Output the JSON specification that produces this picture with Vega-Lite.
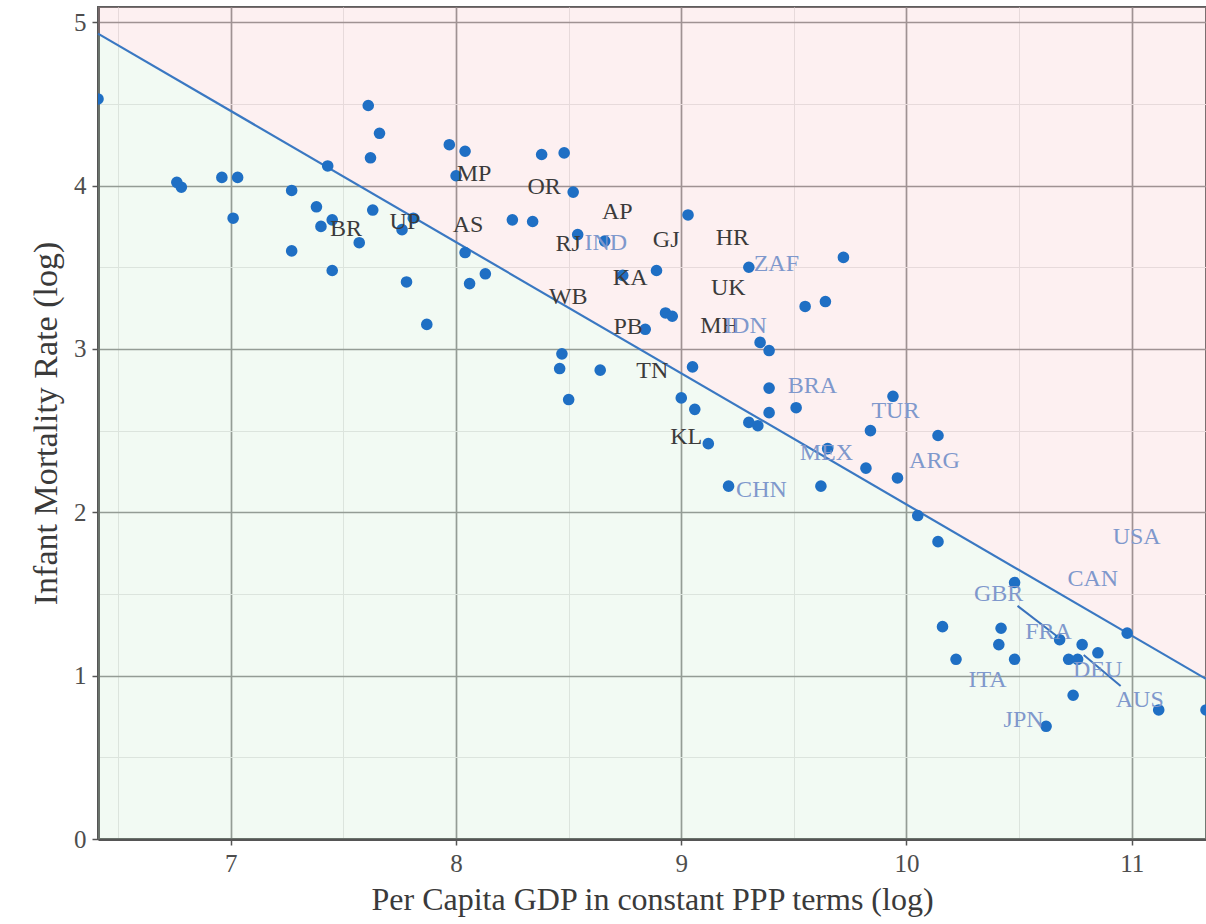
{
  "$schema": "https://vega.github.io/schema/vega-lite/v6.json",
  "width": 1108,
  "height": 832,
  "autosize": {"type": "none"},
  "padding": {"left": 98, "top": 7, "right": 0, "bottom": 85},
  "background": "white",
  "config": {
    "font": "Liberation Serif",
    "view": {"stroke": "#5e5e5e", "strokeWidth": 2},
    "axis": {
      "labelFont": "Liberation Serif",
      "titleFont": "Liberation Serif",
      "labelFontSize": 25,
      "titleFontSize": 32,
      "titleFontWeight": "normal",
      "labelColor": "#4d4d4d",
      "titleColor": "#3a3a3a",
      "domainColor": "#555555",
      "domainWidth": 3,
      "tickColor": "#555555",
      "tickWidth": 1.5,
      "tickSize": 6,
      "gridColor": {"condition": {"test": "datum.value % 1 === 0", "value": "#8a8a8a"}, "value": "#e4e4e4"},
      "gridWidth": {"condition": {"test": "datum.value % 1 === 0", "value": 1.7}, "value": 1},
      "tickOpacity": {"condition": {"test": "datum.value % 1 === 0", "value": 1}, "value": 0},
      "labelExpr": "datum.value % 1 === 0 ? format(datum.value, 'd') : ''"
    }
  },
  "datasets": {
    "fit": [
      {"gdp": 6.41, "imr": 4.93},
      {"gdp": 11.33, "imr": 0.98}
    ],
    "leaders": [
      {"gdp": 10.493, "imr": 1.427, "gdp2": 10.667, "imr2": 1.243},
      {"gdp": 10.787, "imr": 1.127, "gdp2": 10.951, "imr2": 0.937}
    ],
    "obs": [
      {"gdp": 6.41, "imr": 4.53}, {"gdp": 6.76, "imr": 4.02}, {"gdp": 6.78, "imr": 3.99},
      {"gdp": 6.96, "imr": 4.05}, {"gdp": 7.03, "imr": 4.05}, {"gdp": 7.01, "imr": 3.80},
      {"gdp": 7.27, "imr": 3.97}, {"gdp": 7.27, "imr": 3.60}, {"gdp": 7.38, "imr": 3.87},
      {"gdp": 7.40, "imr": 3.75}, {"gdp": 7.45, "imr": 3.79}, {"gdp": 7.43, "imr": 4.12},
      {"gdp": 7.57, "imr": 3.65}, {"gdp": 7.45, "imr": 3.48}, {"gdp": 7.61, "imr": 4.49},
      {"gdp": 7.66, "imr": 4.32}, {"gdp": 7.62, "imr": 4.17}, {"gdp": 7.63, "imr": 3.85},
      {"gdp": 7.76, "imr": 3.73}, {"gdp": 7.81, "imr": 3.80}, {"gdp": 7.78, "imr": 3.41},
      {"gdp": 7.87, "imr": 3.15}, {"gdp": 7.97, "imr": 4.25}, {"gdp": 8.04, "imr": 4.21},
      {"gdp": 8.00, "imr": 4.06}, {"gdp": 8.38, "imr": 4.19}, {"gdp": 8.48, "imr": 4.20},
      {"gdp": 8.52, "imr": 3.96}, {"gdp": 8.25, "imr": 3.79}, {"gdp": 8.34, "imr": 3.78},
      {"gdp": 8.04, "imr": 3.59}, {"gdp": 8.13, "imr": 3.46}, {"gdp": 8.06, "imr": 3.40},
      {"gdp": 8.54, "imr": 3.70}, {"gdp": 8.66, "imr": 3.66}, {"gdp": 9.03, "imr": 3.82},
      {"gdp": 8.74, "imr": 3.45}, {"gdp": 8.89, "imr": 3.48}, {"gdp": 8.93, "imr": 3.22},
      {"gdp": 8.96, "imr": 3.20}, {"gdp": 8.84, "imr": 3.12}, {"gdp": 8.47, "imr": 2.97},
      {"gdp": 8.46, "imr": 2.88}, {"gdp": 8.64, "imr": 2.87}, {"gdp": 8.50, "imr": 2.69},
      {"gdp": 9.05, "imr": 2.89}, {"gdp": 9.00, "imr": 2.70}, {"gdp": 9.06, "imr": 2.63},
      {"gdp": 9.12, "imr": 2.42}, {"gdp": 9.30, "imr": 3.50}, {"gdp": 9.35, "imr": 3.04},
      {"gdp": 9.39, "imr": 2.99}, {"gdp": 9.39, "imr": 2.76}, {"gdp": 9.39, "imr": 2.61},
      {"gdp": 9.30, "imr": 2.55}, {"gdp": 9.34, "imr": 2.53}, {"gdp": 9.51, "imr": 2.64},
      {"gdp": 9.72, "imr": 3.56}, {"gdp": 9.55, "imr": 3.26}, {"gdp": 9.64, "imr": 3.29},
      {"gdp": 9.94, "imr": 2.71}, {"gdp": 9.84, "imr": 2.50}, {"gdp": 10.14, "imr": 2.47},
      {"gdp": 9.65, "imr": 2.39}, {"gdp": 9.82, "imr": 2.27}, {"gdp": 9.96, "imr": 2.21},
      {"gdp": 9.62, "imr": 2.16}, {"gdp": 9.21, "imr": 2.16}, {"gdp": 10.05, "imr": 1.98},
      {"gdp": 10.14, "imr": 1.82}, {"gdp": 10.48, "imr": 1.57}, {"gdp": 10.16, "imr": 1.30},
      {"gdp": 10.42, "imr": 1.29}, {"gdp": 10.41, "imr": 1.19}, {"gdp": 10.22, "imr": 1.10},
      {"gdp": 10.48, "imr": 1.10}, {"gdp": 10.68, "imr": 1.22}, {"gdp": 10.78, "imr": 1.19},
      {"gdp": 10.85, "imr": 1.14}, {"gdp": 10.72, "imr": 1.10}, {"gdp": 10.76, "imr": 1.10},
      {"gdp": 10.74, "imr": 0.88}, {"gdp": 10.98, "imr": 1.26}, {"gdp": 11.12, "imr": 0.79},
      {"gdp": 11.33, "imr": 0.79}, {"gdp": 10.62, "imr": 0.69}
    ],
    "labels": [
      {"name": "BR", "kind": "state", "gdp": 7.511, "imr": 3.735},
      {"name": "UP", "kind": "state", "gdp": 7.773, "imr": 3.778},
      {"name": "MP", "kind": "state", "gdp": 8.08, "imr": 4.07},
      {"name": "AS", "kind": "state", "gdp": 8.053, "imr": 3.76},
      {"name": "OR", "kind": "state", "gdp": 8.391, "imr": 3.99},
      {"name": "AP", "kind": "state", "gdp": 8.716, "imr": 3.84},
      {"name": "RJ", "kind": "state", "gdp": 8.498, "imr": 3.644},
      {"name": "GJ", "kind": "state", "gdp": 8.933, "imr": 3.668},
      {"name": "HR", "kind": "state", "gdp": 9.227, "imr": 3.68},
      {"name": "KA", "kind": "state", "gdp": 8.773, "imr": 3.435},
      {"name": "UK", "kind": "state", "gdp": 9.209, "imr": 3.374},
      {"name": "WB", "kind": "state", "gdp": 8.498, "imr": 3.319},
      {"name": "PB", "kind": "state", "gdp": 8.764, "imr": 3.135},
      {"name": "MH", "kind": "state", "gdp": 9.17, "imr": 3.141},
      {"name": "TN", "kind": "state", "gdp": 8.871, "imr": 2.866},
      {"name": "KL", "kind": "state", "gdp": 9.022, "imr": 2.462},
      {"name": "IND", "kind": "country", "gdp": 8.665, "imr": 3.65},
      {"name": "IDN", "kind": "country", "gdp": 9.285, "imr": 3.141},
      {"name": "ZAF", "kind": "country", "gdp": 9.422, "imr": 3.521},
      {"name": "BRA", "kind": "country", "gdp": 9.582, "imr": 2.774},
      {"name": "TUR", "kind": "country", "gdp": 9.951, "imr": 2.621},
      {"name": "MEX", "kind": "country", "gdp": 9.644, "imr": 2.364},
      {"name": "ARG", "kind": "country", "gdp": 10.124, "imr": 2.315},
      {"name": "CHN", "kind": "country", "gdp": 9.356, "imr": 2.137},
      {"name": "USA", "kind": "country", "gdp": 11.022, "imr": 1.849},
      {"name": "CAN", "kind": "country", "gdp": 10.827, "imr": 1.592},
      {"name": "GBR", "kind": "country", "gdp": 10.409, "imr": 1.5},
      {"name": "FRA", "kind": "country", "gdp": 10.631, "imr": 1.268},
      {"name": "DEU", "kind": "country", "gdp": 10.849, "imr": 1.035},
      {"name": "ITA", "kind": "country", "gdp": 10.36, "imr": 0.974},
      {"name": "JPN", "kind": "country", "gdp": 10.52, "imr": 0.729},
      {"name": "AUS", "kind": "country", "gdp": 11.036, "imr": 0.851}
    ]
  },
  "encoding": {
    "x": {
      "field": "gdp", "type": "quantitative",
      "scale": {"domain": [6.41, 11.33], "nice": false, "zero": false},
      "axis": {
        "title": "Per Capita GDP in constant PPP terms (log)",
        "values": [6.5, 7, 7.5, 8, 8.5, 9, 9.5, 10, 10.5, 11],
        "labelPadding": 6, "titlePadding": 8
      }
    },
    "y": {
      "field": "imr", "type": "quantitative",
      "scale": {"domain": [0, 5.093], "nice": false},
      "axis": {
        "title": "Infant Mortality Rate (log)",
        "values": [0, 0.5, 1, 1.5, 2, 2.5, 3, 3.5, 4, 4.5, 5],
        "labelPadding": 6, "titlePadding": 10, "titleFontSize": 34
      }
    }
  },
  "layer": [
    {
      "data": {"name": "fit"},
      "mark": {"type": "area", "color": "#f4b4b8", "opacity": 0.2},
      "encoding": {"y2": {"datum": 5.093}}
    },
    {
      "data": {"name": "fit"},
      "mark": {"type": "area", "color": "#bde4c3", "opacity": 0.2},
      "encoding": {"y2": {"datum": 0}}
    },
    {
      "data": {"name": "fit"},
      "mark": {"type": "line", "color": "#3a78c2", "strokeWidth": 2.2},
      "encoding": {}
    },
    {
      "data": {"name": "leaders"},
      "mark": {"type": "rule", "color": "#3a72bd", "strokeWidth": 2},
      "encoding": {"x2": {"field": "gdp2"}, "y2": {"field": "imr2"}}
    },
    {
      "data": {"name": "obs"},
      "mark": {"type": "circle", "color": "#1f6fc4", "opacity": 1, "size": 135, "clip": true},
      "encoding": {}
    },
    {
      "data": {"name": "labels"},
      "mark": {"type": "text", "font": "Liberation Serif", "fontSize": 24, "align": "center", "baseline": "middle"},
      "encoding": {
        "text": {"field": "name"},
        "color": {
          "field": "kind", "type": "nominal",
          "scale": {"domain": ["state", "country"], "range": ["#3b3b3b", "#7f98cc"]},
          "legend": null
        }
      }
    }
  ]
}
